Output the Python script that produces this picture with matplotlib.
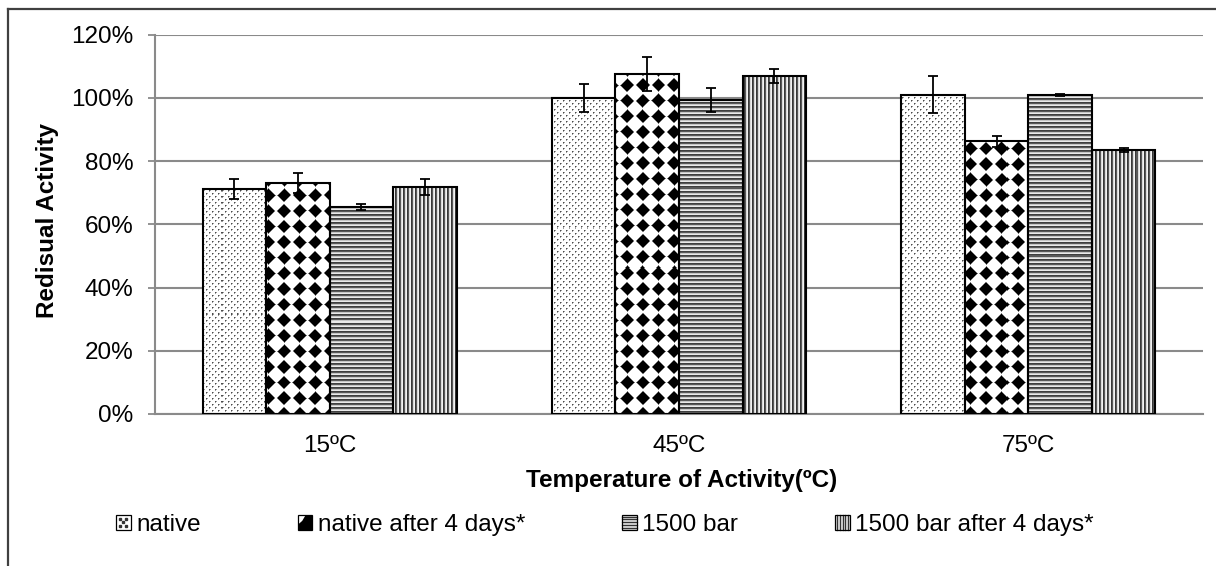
import numpy as np
import matplotlib
matplotlib.use("Agg")
import matplotlib.pyplot as plt
from matplotlib.patches import Rectangle, Polygon
from matplotlib.legend_handler import HandlerBase
from matplotlib.lines import Line2D

# ---- data -------------------------------------------------------------
categories = ["15ºC", "45ºC", "75ºC"]
series_names = ["native", "native after 4 days*", "1500 bar", "1500 bar after 4 days*"]

native = [71.2, 100.1, 101.0]
native_err = [3.2, 4.4, 5.9]
native_4d = [73.0, 107.6, 86.3]
native_4d_err = [3.2, 5.3, 1.7]
bar1500 = [65.5, 99.2, 101.0]
bar1500_err = [1.0, 3.8, 0.3]
bar1500_4d = [71.8, 107.0, 83.6]
bar1500_4d_err = [2.5, 2.2, 0.7]

y_ticks = [0, 20, 40, 60, 80, 100, 120]
y_tick_labels = [f"{t}%" for t in y_ticks]

x_label = "Temperature of Activity(ºC)"
y_label = "Redisual Activity"

# ---- figure -----------------------------------------------------------
plt.rcParams["font.family"] = ["Liberation Sans", "DejaVu Sans"]
W, H, DPI = 1216, 566, 100
fig = plt.figure(figsize=(W / DPI, H / DPI), dpi=DPI)

ax_l, ax_r, ax_t, ax_b = 155, 1203, 34.7, 414
ax = fig.add_axes([ax_l / W, 1 - ax_b / H, (ax_r - ax_l) / W, (ax_b - ax_t) / H])

FS = 17.5
grid_col = "#8a8a8a"
ax.set_xlim(-0.5, len(categories) - 0.5)
ax.set_ylim(y_ticks[0], y_ticks[-1])
ax.set_yticks(y_ticks)
ax.set_yticklabels(y_tick_labels)
ax.set_xticks(range(len(categories)))
ax.set_xticklabels(categories)
ax.tick_params(axis="y", length=5, width=1.3, color=grid_col, pad=10.5, labelsize=FS)
ax.tick_params(axis="x", length=0, pad=15, labelsize=FS)
for s in ("top", "right"):
    ax.spines[s].set_visible(False)
for s in ("left", "bottom"):
    ax.spines[s].set_color(grid_col)
    ax.spines[s].set_linewidth(1.5)
ax.yaxis.grid(True, color=grid_col, linewidth=1.5, zorder=0.5)
ax.set_axisbelow(True)

# ---- fill textures (built in device pixels over the axes area) --------
pw, ph = int(round(ax_r - ax_l)), int(round(ax_b - ax_t))
yy, xx = np.mgrid[0:ph, 0:pw]


def make_texture(kind):
    img = np.ones((ph, pw, 3))
    if kind == "dots":
        row = yy % 6
        col = xx % 6
        on = ((row == 0) & (col == 0)) | ((row == 3) & (col == 3))
        half = (((row == 0) & (col == 1)) | ((row == 3) & (col == 4))
                | ((row == 1) & (col == 0)) | ((row == 4) & (col == 3)))
        img[on] = 0.3
        img[half] = 0.62
    elif kind == "diamonds":
        P = 15.6
        u = np.abs(((xx + 4) % P) - P / 2)
        v = np.abs(((yy + 4) % P) - P / 2)
        d = u + v
        img[d < 6.3] = 0.0
        edge = (d >= 6.3) & (d < 7.3)
        img[edge] = 0.5
    elif kind == "hlines":
        r = yy % 4
        img[r == 0] = 0.25
        img[r == 1] = 0.35
        img[r == 2] = 0.78
        img[r == 3] = 0.92
    elif kind == "vlines":
        c = xx % 4
        img[c == 0] = 0.22
        img[c == 1] = 0.35
        img[c == 2] = 0.85
        img[c == 3] = 0.95
    return img


kinds = ["dots", "diamonds", "hlines", "vlines"]
textures = {k: make_texture(k) for k in kinds}

values = [native, native_4d, bar1500, bar1500_4d]
errors = [native_err, native_4d_err, bar1500_err, bar1500_4d_err]

n = len(series_names)
bar_w = 0.1818
x = np.arange(len(categories))
xlim, ylim = ax.get_xlim(), ax.get_ylim()

for i, (vals, errs, kind) in enumerate(zip(values, errors, kinds)):
    pos = x + (i - (n - 1) / 2) * bar_w
    bars = ax.bar(pos, vals, bar_w, facecolor="none", edgecolor="black",
                  linewidth=1.5, zorder=3)
    for rect in bars.patches:
        im = ax.imshow(textures[kind], extent=(xlim[0], xlim[1], ylim[0], ylim[1]),
                       aspect="auto", interpolation="nearest", zorder=2)
        im.set_clip_path(rect)
    ax.errorbar(pos, vals, yerr=errs, fmt="none", ecolor="black",
                elinewidth=1.3, capsize=3.5, capthick=1.3, zorder=4)

ax.set_xlim(xlim)
ax.set_ylim(ylim)

# ---- axis titles --------------------------------------------------------
fig.text(682 / W, 1 - 480 / H, x_label, ha="center", va="center",
         fontsize=FS, fontweight="bold")
fig.text(48 / W, 1 - 220 / H, y_label, ha="center", va="center",
         rotation=90, fontsize=FS, fontweight="bold")

# ---- legend swatches ----------------------------------------------------


class SwatchHandler(HandlerBase):
    def __init__(self, kind):
        super().__init__()
        self.kind = kind

    def create_artists(self, legend, orig_handle, xdescent, ydescent,
                       width, height, fontsize, trans):
        x0, y0 = -xdescent, -ydescent
        arts = []
        if self.kind == "dots":
            bg = Rectangle((x0, y0), width, height, fc="white", ec="none", transform=trans)
            arts.append(bg)
            pts = [(0.3, 0.7), (0.7, 0.7), (0.5, 0.5), (0.3, 0.3), (0.7, 0.3)]
            for px, py in pts:
                arts.append(Line2D([x0 + px * width], [y0 + py * height], marker="s",
                                   markersize=1.6, color="#333333", lw=0,
                                   transform=trans))
        elif self.kind == "diamonds":
            bg = Rectangle((x0, y0), width, height, fc="black", ec="none", transform=trans)
            arts.append(bg)
            arts.append(Polygon([(x0, y0 + height), (x0 + 0.55 * width, y0 + height),
                                 (x0 + 0.3 * width, y0 + 0.6 * height), (x0, y0 + 0.35 * height)],
                                closed=True, fc="white", ec="none", transform=trans))
        elif self.kind == "hlines":
            bg = Rectangle((x0, y0), width, height, fc="#dddddd", ec="none", transform=trans)
            arts.append(bg)
            for f in np.linspace(0.12, 0.88, 5):
                arts.append(Line2D([x0, x0 + width], [y0 + f * height] * 2,
                                   color="#333333", lw=0.9, transform=trans))
        else:
            bg = Rectangle((x0, y0), width, height, fc="#dddddd", ec="none", transform=trans)
            arts.append(bg)
            for f in np.linspace(0.12, 0.88, 5):
                arts.append(Line2D([x0 + f * width] * 2, [y0, y0 + height],
                                   color="#333333", lw=0.9, transform=trans))
        arts.append(Rectangle((x0, y0), width, height, fc="none", ec="black",
                              lw=0.9, transform=trans))
        return arts


handles = [Rectangle((0, 0), 1, 1) for _ in series_names]
hmap = {h: SwatchHandler(k) for h, k in zip(handles, kinds)}
fig.legend(handles, series_names, handler_map=hmap, loc="center",
           bbox_to_anchor=(605 / W, 1 - 525 / H), ncol=4, frameon=False,
           fontsize=FS, handlelength=0.6, handleheight=0.6, handletextpad=0.22,
           columnspacing=4.0, borderpad=0, borderaxespad=0)

# ---- outer chart frame (top and left edges) -----------------------------
frame_col = "#404040"
fig.add_artist(Line2D([7.5 / W, 1.0], [1 - 9 / H, 1 - 9 / H], color=frame_col,
                      lw=1.6, transform=fig.transFigure))
fig.add_artist(Line2D([7.5 / W, 7.5 / W], [0.0, 1 - 9 / H], color=frame_col,
                      lw=1.6, transform=fig.transFigure))

fig.savefig("out.png", dpi=DPI, facecolor="white")
